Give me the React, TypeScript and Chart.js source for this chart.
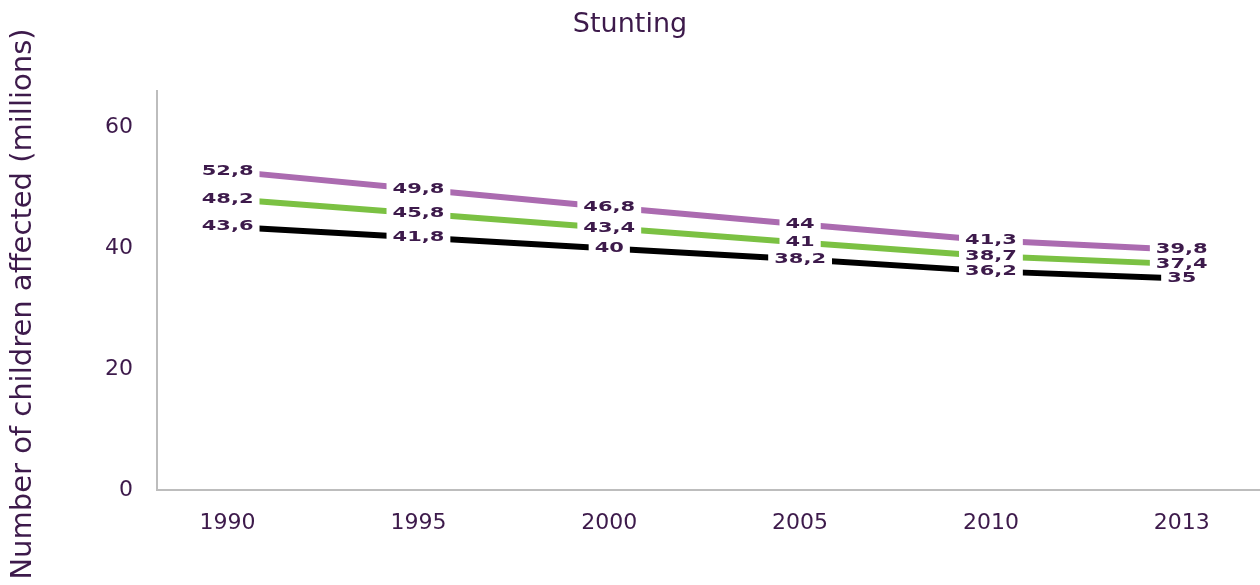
import React, { useEffect, useRef } from "react";
import { Chart, registerables } from "chart.js";

Chart.register(...registerables);

const categories = ["1990", "1995", "2000", "2005", "2010", "2013"];
const seriesPurple = [52.8, 49.8, 46.8, 44, 41.3, 39.8];
const seriesGreen = [48.2, 45.8, 43.4, 41, 38.7, 37.4];
const seriesBlack = [43.6, 41.8, 40, 38.2, 36.2, 35];
const yTicks = [0, 20, 40, 60];
const yTitle = "Number of children affected (millions)";

const TEXT = "#3d1a4b";
const FONT = "'DejaVu Sans'";

const valueLabels = {
  id: "valueLabels",
  afterDatasetsDraw(chart: any) {
    const ctx = chart.ctx;
    ctx.save();
    ctx.font = `bold 14px ${FONT}`;
    ctx.textAlign = "center";
    ctx.textBaseline = "middle";
    const sx = 1.5;
    chart.data.datasets.forEach((ds: any, di: number) => {
      const meta = chart.getDatasetMeta(di);
      meta.data.forEach((pt: any, i: number) => {
        const v = ds.data[i].y;
        const txt = String(v).replace(".", ",");
        const w = ctx.measureText(txt).width * sx;
        ctx.fillStyle = "#ffffff";
        ctx.fillRect(pt.x - w / 2 - 6, pt.y - 8, w + 12, 16);
        ctx.save();
        ctx.translate(pt.x, pt.y);
        ctx.scale(sx, 1);
        ctx.fillStyle = TEXT;
        ctx.fillText(txt, 0, 0);
        ctx.restore();
      });
    });
    ctx.restore();
  },
};

const yTitlePlugin = {
  id: "yTitlePlugin",
  afterDraw(chart: any) {
    const ctx = chart.ctx;
    ctx.save();
    ctx.translate(23, 304);
    ctx.rotate(-Math.PI / 2);
    ctx.font = `29px ${FONT}`;
    ctx.fillStyle = TEXT;
    ctx.textAlign = "center";
    ctx.textBaseline = "middle";
    ctx.fillText(yTitle, 0, 0);
    ctx.restore();
  },
};

export default function App() {
  const ref = useRef<HTMLCanvasElement>(null);
  useEffect(() => {
    document.body.style.margin = "0";
    const toPts = (arr: number[]) => arr.map((y, i) => ({ x: i, y }));
    const mk = (data: number[], color: string, label: string) => ({
      label,
      data: toPts(data),
      borderColor: color,
      backgroundColor: color,
      borderWidth: 6,
      pointRadius: 0,
      tension: 0,
      borderCapStyle: "butt",
    });
    const chart = new Chart(ref.current!, {
      type: "line",
      data: {
        datasets: [
          mk(seriesPurple, "#ab6bb0", "A"),
          mk(seriesGreen, "#7bc143", "B"),
          mk(seriesBlack, "#000000", "C"),
        ] as any,
      },
      options: {
        animation: false,
        responsive: false,
        layout: { padding: { left: 0, right: 0, top: 0, bottom: 0 } },
        plugins: {
          legend: { display: false },
          tooltip: { enabled: false },
          title: {
            display: true,
            text: "Stunting",
            color: TEXT,
            font: { family: FONT, size: 27, weight: "normal" },
            padding: { top: 9, bottom: 50 },
          },
        },
        scales: {
          x: {
            type: "linear",
            min: -0.37,
            max: 5.41,
            afterBuildTicks: (s: any) => {
              s.ticks = categories.map((_, i) => ({ value: i }));
            },
            afterFit: (s: any) => {
              s.height = 95;
            },
            grid: { display: false, drawTicks: false },
            border: { display: true, color: "#bdbdbd", width: 2 },
            ticks: {
              padding: 20,
              color: TEXT,
              font: { family: FONT, size: 22 },
              callback: (v: any) => categories[v] ?? "",
              maxRotation: 0,
            },
          },
          y: {
            min: 0,
            max: 66,
            afterBuildTicks: (s: any) => {
              s.ticks = yTicks.map((v) => ({ value: v }));
            },
            afterFit: (s: any) => {
              s.width = 157;
            },
            grid: { display: false, drawTicks: false },
            border: { display: true, color: "#bdbdbd", width: 2 },
            ticks: {
              padding: 24,
              color: TEXT,
              font: { family: FONT, size: 22 },
            },
          },
        },
      },
      plugins: [valueLabels, yTitlePlugin],
    } as any);
    return () => chart.destroy();
  }, []);
  return (
    <div style={{ position: "fixed", left: 0, top: 0, width: 1260, height: 585, background: "#fff" }}>
      <canvas ref={ref} width={1260} height={585} style={{ width: 1260, height: 585 }} />
    </div>
  );
}
